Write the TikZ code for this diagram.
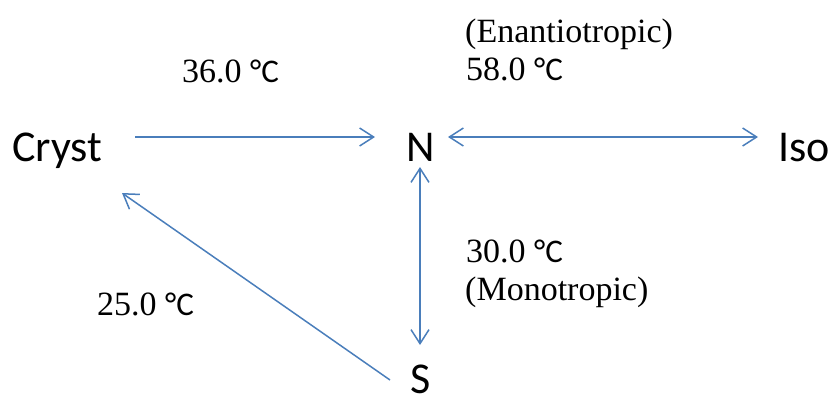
\documentclass[tikz,border=0pt]{standalone}
\usepackage{fontspec}
\setmainfont{Liberation Serif}
\newfontfamily\calib{Carlito}
\usetikzlibrary{arrows.meta}
\definecolor{arrblue}{HTML}{4A7EBB}
\tikzset{
  phase/.style={inner sep=0pt, anchor=base west, font=\calib\fontsize{44}{50}\selectfont},
  temp/.style={inner sep=0pt, anchor=base west, font=\fontsize{34}{40}\selectfont},
  arr/.style={draw=arrblue, line width=1.5pt, -{Straight Barb[length=14pt,width=18pt,line width=1.5pt]}},
  darr/.style={draw=arrblue, line width=1.5pt, {Straight Barb[length=14pt,width=18pt,line width=1.5pt]}-{Straight Barb[length=14pt,width=18pt,line width=1.5pt]}}
}
\newcommand{\degc}{{\calib\fontsize{33}{40}\selectfont °C}}
\begin{document}
\begin{tikzpicture}[x=1pt,y=-1pt]
\useasboundingbox (0,0) rectangle (832,394);
\node[phase] (cryst) at (12,161) {Cryst};
\node[phase, anchor=base] (n) at (421,161) {N};
\node[phase] (iso) at (778,161) {Iso};
\node[phase, anchor=base] (s) at (421,393) {S};
\node[temp] (t36) at (182,82) {36.0 \degc};
\node[temp] (enan) at (465,42) {(Enantiotropic)};
\node[temp] (t58) at (466,80) {58.0 \degc};
\node[temp] (t30) at (466,262) {30.0 \degc};
\node[temp] (mono) at (465,300) {(Monotropic)};
\node[temp] (t25) at (97,315) {25.0 \degc};
\draw[arr] ([xshift=33pt,yshift=24pt]cryst.base east) -- ([xshift=-46pt,yshift=24pt]n.base);
\draw[darr] ([xshift=27pt,yshift=24pt]n.base) -- ([xshift=-20pt,yshift=24pt]iso.base west);
\draw[darr] ([xshift=-1pt,yshift=-6pt]n.base) -- ([xshift=-1pt,yshift=48pt]s.base);
\draw[arr] ([xshift=-31pt,yshift=13pt]s.base) -- ([xshift=110pt,yshift=-32pt]cryst.base west);
\end{tikzpicture}
\end{document}
